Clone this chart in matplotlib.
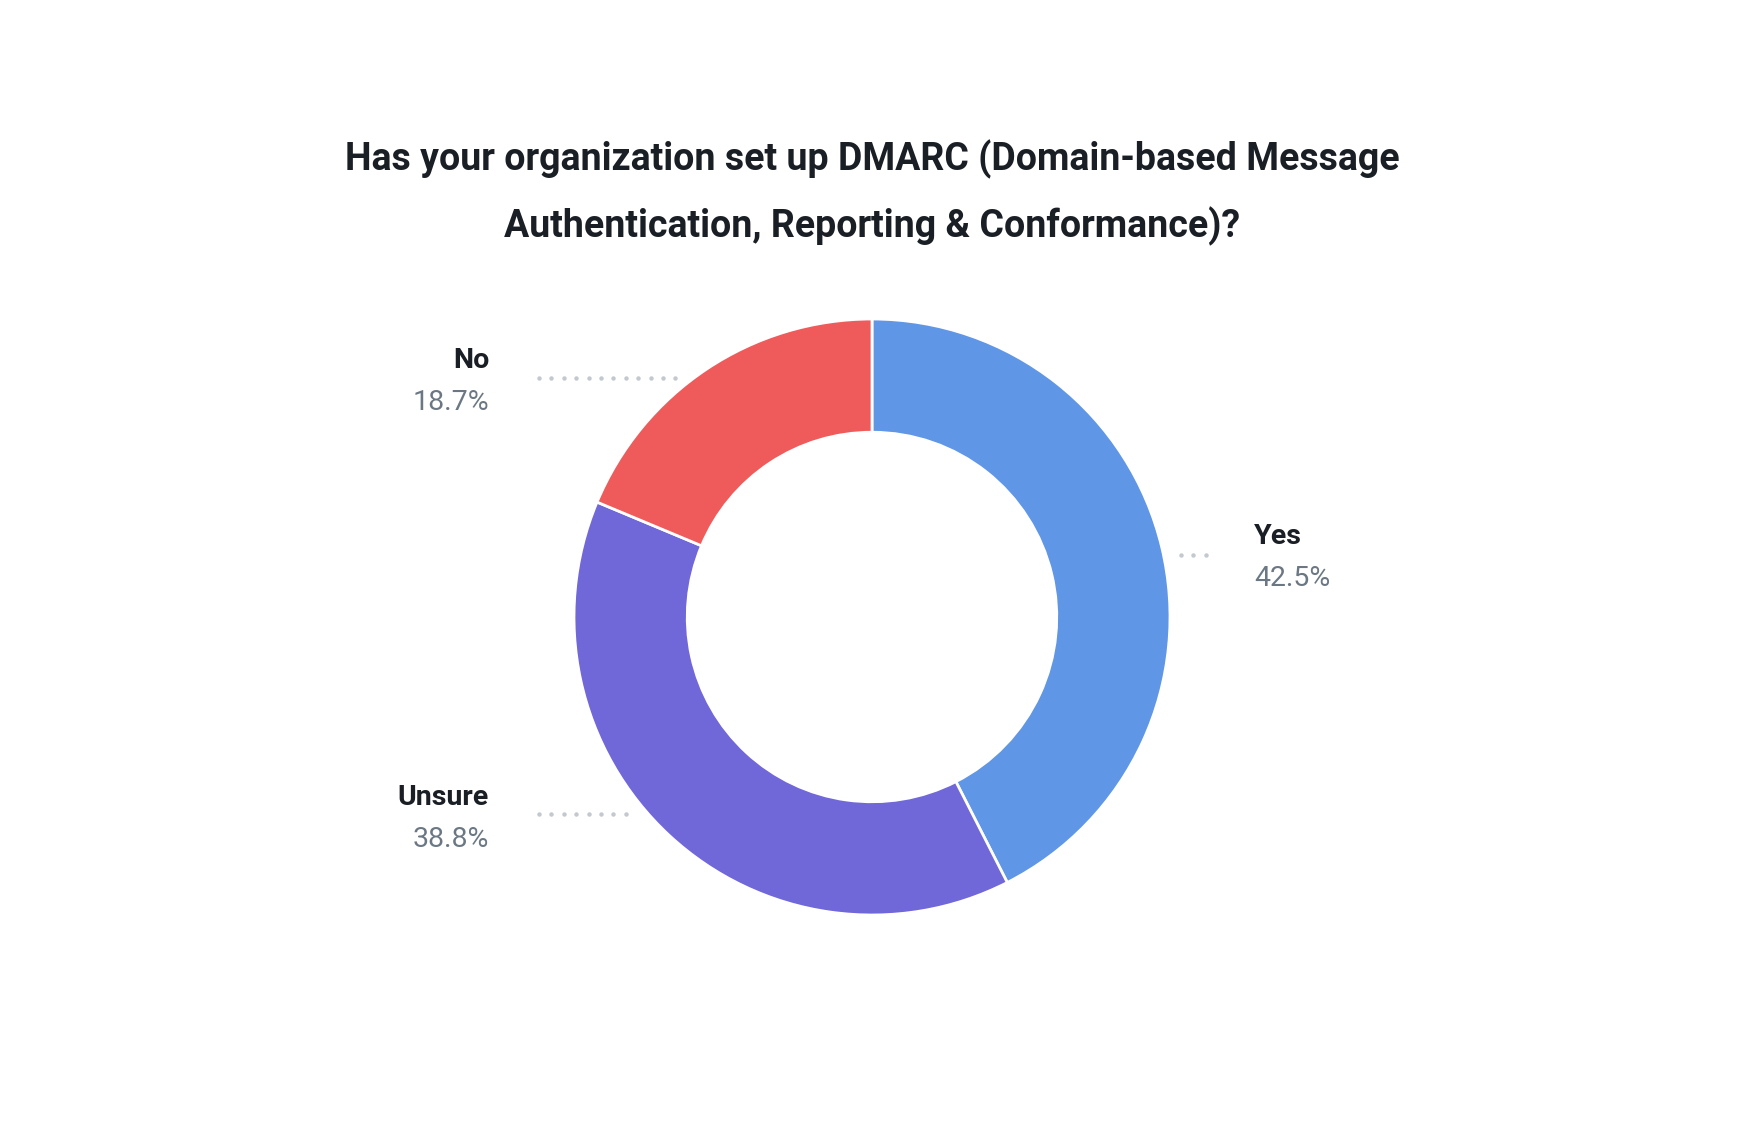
import numpy as np
import matplotlib
matplotlib.use("Agg")
import matplotlib.pyplot as plt
from matplotlib.lines import Line2D

plt.rcParams['font.family'] = ['Roboto', 'DejaVu Sans']

# data
labels = ["Yes", "Unsure", "No"]
shares = [42.5, 38.8, 18.7]
colors = ["#6096E6", "#7067D9", "#EF5A5A"]
title = ("Has your organization set up DMARC (Domain-based Message\n"
         "Authentication, Reporting & Conformance)?")

W, H = 1744, 1137
fig = plt.figure(figsize=(W / 100, H / 100), dpi=100)
fig.patch.set_facecolor("white")


def px(x, y):
    return x / W, 1 - y / H


# donut
cx, cy, r = 872, 617, 298
ax = fig.add_axes([(cx - r) / W, 1 - (cy + r) / H, 2 * r / W, 2 * r / H])
ax.pie(shares, colors=colors, startangle=90, counterclock=False, radius=1,
       wedgeprops=dict(width=0.38, edgecolor="white", linewidth=2))
ax.set_xlim(-1, 1)
ax.set_ylim(-1, 1)
ax.set_aspect("equal")
ax.axis("off")

# title
fig.text(*px(872, 170), title.split("\n")[0], ha="center", va="baseline",
         fontsize=27, fontweight="bold", color="#1a1f25")
fig.text(*px(872, 237), title.split("\n")[1], ha="center", va="baseline",
         fontsize=27, fontweight="bold", color="#1a1f25")

# labels: (text x, align, name baseline, dots y, dots x0, dots x1)
label_pos = {
    "Yes": (1254, "left", 544, 555, 1181, 1206),
    "No": (489, "right", 368, 378, 539, 676),
    "Unsure": (489, "right", 805, 814, 539, 630),
}
for lab, val in zip(labels, shares):
    tx, ha, by, dy, x0, x1 = label_pos[lab]
    fig.text(*px(tx, by), lab, ha=ha, va="baseline", fontsize=20.5,
             fontweight="bold", color="#1a1f25")
    fig.text(*px(tx, by + 42), f"{val}%", ha=ha, va="baseline", fontsize=20.5,
             fontweight="normal", color="#6b7884")
    xs = np.arange(x0, x1 + 1, 12.4)
    fx = [x / W for x in xs]
    fy = [1 - dy / H] * len(xs)
    fig.add_artist(Line2D(fx, fy, transform=fig.transFigure, linestyle="none",
                          marker="o", markersize=3.2, markeredgewidth=0,
                          color="#c3c9cf"))

fig.savefig("out.png", dpi=100, facecolor="white")
